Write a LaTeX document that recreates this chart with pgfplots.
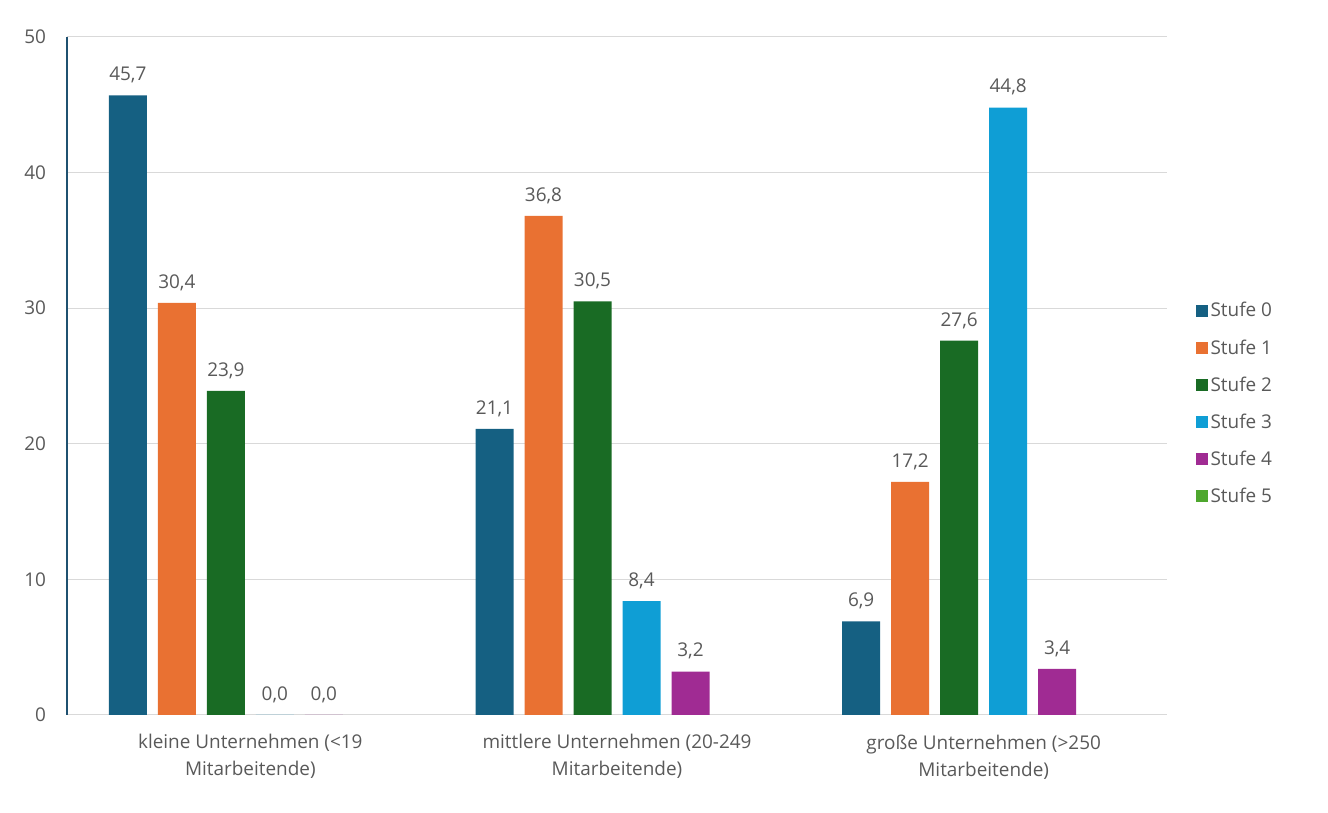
\documentclass[border=0pt]{standalone}
\usepackage{pgfplots}
\pgfplotsset{compat=1.18}
\usepackage{fontspec}
\setmainfont{Open Sans}
\definecolor{s0}{HTML}{156082}
\definecolor{s1}{HTML}{E97132}
\definecolor{s2}{HTML}{196B24}
\definecolor{s3}{HTML}{0F9ED5}
\definecolor{s4}{HTML}{A02B93}
\definecolor{s5}{HTML}{4EA72E}
\definecolor{txt}{HTML}{595959}
\definecolor{grd}{HTML}{D9D9D9}
\definecolor{yax}{HTML}{1F5170}
\newcommand{\lf}{\fontsize{14.2pt}{20.25pt}\selectfont}
\begin{document}
\lf
\begin{tikzpicture}
\path[use as bounding box] (-50.25pt,-73.5pt) rectangle (945.75pt,536.25pt);
\begin{axis}[
  at={(0,0)}, anchor=south west,
  scale only axis, width=825pt, height=508.5pt,
  xmin=-0.5, xmax=2.5, ymin=0, ymax=50,
  ytick={0,10,20,30,40,50},
  xtick={0,1,2},
  xticklabels={{kleine Unternehmen (<19\\Mitarbeitende)},{mittlere Unternehmen (20-249\\Mitarbeitende)},{große Unternehmen (>250\\Mitarbeitende)}},
  xticklabel style={align=center, text=txt, font=\lf, inner sep=0pt, yshift=-14.5pt},
  yticklabel style={text=txt, font=\lf, inner sep=0pt, xshift=-15.5pt},
  /pgf/number format/assume math mode=true,
  major tick length=0pt,
  ymajorgrids, grid style={grd, line width=0.75pt},
  axis x line*=bottom, axis y line*=left,
  x axis line style={grd, line width=0.75pt, -},
  y axis line style={yax, line width=0.9pt, -},
  ybar, bar width=28.5pt,
  nodes near coords,
  nodes near coords style={text=txt, font=\lf, inner sep=0pt, anchor=south, yshift=9pt,
    /pgf/number format/.cd, fixed, fixed zerofill, precision=1, use comma, assume math mode=true},
  legend style={at={(1.026,0.459)}, anchor=west, draw=none, fill=none,
    font=\lf, text=txt, row sep=10.8pt, inner sep=0pt,
    /tikz/every even column/.append style={column sep=0pt}},
  legend cell align=left,
  legend image code/.code={\fill[#1] (0pt,-4.5pt) rectangle (9pt,4.5pt);},
]
\addplot[fill=s0, draw=none, bar shift=-91.875pt] coordinates {(0,45.7) (1,21.1) (2,6.9)};
\addlegendentry{Stufe 0}
\addplot[fill=s1, draw=none, bar shift=-55.125pt] coordinates {(0,30.4) (1,36.8) (2,17.2)};
\addlegendentry{Stufe 1}
\addplot[fill=s2, draw=none, bar shift=-18.375pt] coordinates {(0,23.9) (1,30.5) (2,27.6)};
\addlegendentry{Stufe 2}
\addplot[fill=s3, draw=none, bar shift=18.375pt] coordinates {(0,0.0) (1,8.4) (2,44.8)};
\addlegendentry{Stufe 3}
\addplot[fill=s4, draw=none, bar shift=55.125pt] coordinates {(0,0.0) (1,3.2) (2,3.4)};
\addlegendentry{Stufe 4}
\addlegendimage{fill=s5, draw=none}
\addlegendentry{Stufe 5}
\end{axis}
\end{tikzpicture}
\end{document}
